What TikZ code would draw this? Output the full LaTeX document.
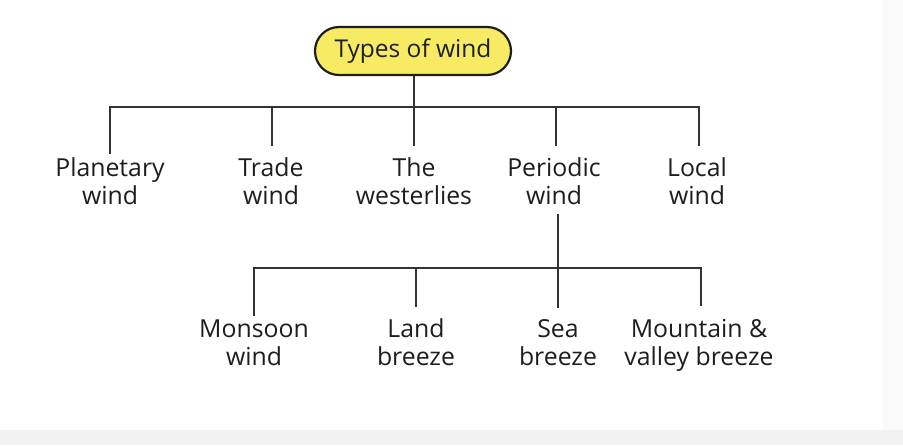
\documentclass[tikz,border=0pt]{standalone}
\usepackage{fontspec}
\setmainfont{Open Sans}
\definecolor{wire}{HTML}{333333}
\definecolor{rootfill}{HTML}{F7EB64}
\definecolor{txt}{HTML}{1E1E1E}
\begin{document}
\begin{tikzpicture}[x=1pt,y=1pt,
  wire/.style={draw=wire,line width=2.8pt},
  lbl/.style={inner sep=0pt,align=center,text=txt,font=\fontsize{24.8}{28}\selectfont,anchor=base},
  rootbox/.style={draw=txt,line width=2.2pt,fill=rootfill,rounded corners=24pt,minimum width=196pt,minimum height=48pt,inner sep=0pt,text=txt,font=\fontsize{24.5}{30}\selectfont}]
\useasboundingbox (0,0) rectangle (903,-445);
\fill[white] (0,0) rectangle (903,-445);
\fill[gray!4] (883,0) rectangle (903,-445);
\fill[gray!10] (0,-430) rectangle (903,-445);
\node[rootbox] (root) at (413,-51) {Types of wind};
\node[lbl] (planetary) at (110,-204) {Planetary\\wind};
\node[lbl] (trade) at (271,-204) {Trade\\wind};
\node[lbl] (west) at (414,-204) {The\\westerlies};
\node[lbl] (periodic) at (554,-204) {Periodic\\wind};
\node[lbl] (local) at (697,-204) {Local\\wind};
\node[lbl] (monsoon) at (254,-365) {Monsoon\\wind};
\node[lbl] (land) at (416,-365) {Land\\breeze};
\node[lbl] (sea) at (558,-365) {Sea\\breeze};
\node[lbl] (mount) at (699,-365) {Mountain \&\\valley breeze};
\coordinate (j1) at (414,-107);
\coordinate (j2) at (558,-268);
\draw[wire] (root.south -| j1) -- (j1);
\draw[wire] (j1) -| ([xshift=0pt,yshift=3pt]planetary.north);
\draw[wire] (j1) -| ([xshift=1pt,yshift=11pt]trade.north);
\draw[wire] (j1) -- ([yshift=11pt]west.north);
\draw[wire] (j1) -| ([xshift=2pt,yshift=11pt]periodic.north);
\draw[wire] (j1) -| ([xshift=2pt,yshift=11pt]local.north);
\draw[wire] ([yshift=-10pt]periodic.south -| j2) -- (j2);
\draw[wire] (j2) -| ([yshift=3pt]monsoon.north);
\draw[wire] (j2) -| ([yshift=11pt]land.north);
\draw[wire] (j2) -- ([yshift=11pt]sea.north);
\draw[wire] (j2) -| ([xshift=2pt,yshift=13pt]mount.north);
\end{tikzpicture}
\end{document}
